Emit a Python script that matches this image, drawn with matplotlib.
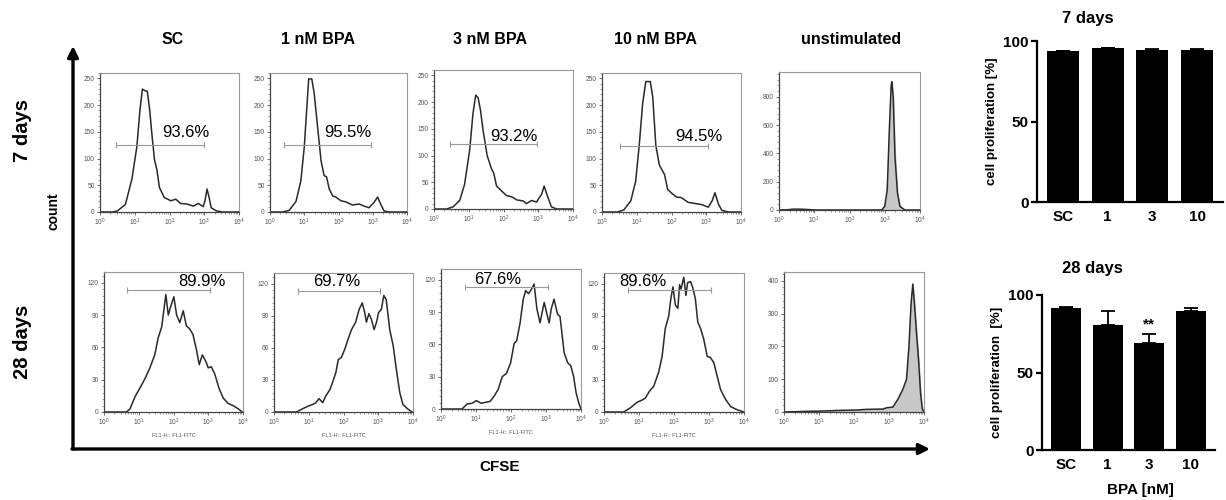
import numpy as np
import matplotlib
matplotlib.use('Agg')
import matplotlib.pyplot as plt
from matplotlib.ticker import AutoMinorLocator, MultipleLocator

plt.rcParams['font.family'] = ['Liberation Sans', 'DejaVu Sans']

W, H = 1226, 500

conditions = ['SC', '1 nM BPA', '3 nM BPA', '10 nM BPA', 'unstimulated']
bar_labels = ['SC', '1', '3', '10']

# CFSE histograms, x given as log10(fluorescence), y = count
# 7 days
sc7_x = [0, 0.36, 0.5, 0.73, 0.92, 1.06, 1.15, 1.22, 1.29, 1.36, 1.43, 1.5, 1.57, 1.64, 1.71, 1.85,
         2.04, 2.18, 2.32, 2.5, 2.69, 2.83, 2.97, 3.02, 3.08, 3.14, 3.2, 3.35, 3.53, 4.0]
sc7_y = [0, 0, 2, 14, 62, 122, 191, 230, 227, 226, 191, 141, 97, 78, 46, 27,
         21, 24, 16, 15, 11, 16, 10, 21, 43, 27, 8, 2, 0, 0]
bpa1_7_x = [0, 0.37, 0.56, 0.76, 0.9, 1.0, 1.07, 1.13, 1.22, 1.29, 1.39, 1.49, 1.58, 1.65, 1.73, 1.83,
            1.92, 2.07, 2.21, 2.41, 2.6, 2.75, 2.89, 3.04, 3.14, 3.23, 3.33, 3.48, 4.0]
bpa1_7_y = [0, 0, 3, 20, 58, 121, 190, 249, 249, 222, 159, 96, 68, 66, 43, 30,
            28, 21, 19, 13, 15, 11, 8, 18, 28, 15, 2, 0, 0]
bpa3_7_x = [0, 0.36, 0.55, 0.74, 0.88, 1.03, 1.12, 1.2, 1.27, 1.34, 1.41, 1.53, 1.65, 1.72, 1.8, 1.94,
            2.09, 2.23, 2.38, 2.57, 2.66, 2.81, 2.95, 3.1, 3.17, 3.26, 3.38, 3.53, 4.0]
bpa3_7_y = [0, 0, 4, 16, 46, 112, 178, 213, 208, 184, 148, 100, 76, 67, 43, 34,
            25, 23, 17, 15, 10, 16, 13, 28, 43, 25, 4, 0, 0]
bpa10_7_x = [0, 0.44, 0.63, 0.83, 0.97, 1.07, 1.17, 1.26, 1.39, 1.46, 1.55, 1.65, 1.8, 1.89, 1.99,
             2.14, 2.28, 2.48, 2.67, 2.86, 3.06, 3.17, 3.25, 3.35, 3.45, 3.64, 4.0]
bpa10_7_y = [0, 0, 4, 21, 58, 124, 203, 244, 244, 215, 124, 88, 70, 42, 36,
             28, 27, 18, 16, 14, 9, 21, 36, 15, 3, 0, 0]
unst7_x = [0, 0.25, 0.4, 0.6, 0.85, 1.0, 2.91, 3.0, 3.07, 3.13, 3.18, 3.2, 3.24, 3.29, 3.36, 3.43, 3.57, 4.0]
unst7_y = [0, 2, 6, 6, 3, 0, 0, 26, 143, 566, 871, 906, 800, 378, 120, 26, 0, 0]

# 28 days
sc28_x = [0, 0.65, 0.75, 0.89, 1.03, 1.18, 1.32, 1.46, 1.56, 1.66, 1.72, 1.78, 1.85, 1.91, 2.01, 2.09,
          2.18, 2.28, 2.37, 2.47, 2.56, 2.66, 2.74, 2.83, 2.93, 3.0, 3.09, 3.19, 3.31, 3.43, 3.57,
          3.71, 3.86, 3.98]
sc28_y = [0, 0, 3, 14, 22, 31, 41, 53, 69, 79, 94, 109, 90, 97, 107, 90,
          83, 94, 80, 77, 72, 58, 44, 53, 47, 41, 42, 35, 22, 13, 8,
          6, 3, 0]
bpa1_28_x = [0, 0.65, 0.79, 0.99, 1.18, 1.3, 1.4, 1.49, 1.61, 1.7, 1.78, 1.85, 1.94, 2.04, 2.13, 2.23,
             2.35, 2.45, 2.54, 2.61, 2.66, 2.73, 2.8, 2.88, 2.95, 3.01, 3.09, 3.16, 3.23, 3.33, 3.43,
             3.52, 3.62, 3.71, 3.86, 3.98]
bpa1_28_y = [0, 0, 2.5, 5.6, 8, 12.5, 8.7, 15, 21, 29, 37, 49, 51, 59, 68, 77,
             84, 96, 102, 93, 84, 92, 87, 77, 84, 93, 96, 109, 105, 77, 62,
             40, 18, 7, 2.5, 0]
bpa3_28_x = [0, 0.6, 0.75, 0.89, 1.01, 1.15, 1.27, 1.4, 1.51, 1.63, 1.75, 1.87, 1.99, 2.09, 2.16, 2.26,
             2.35, 2.42, 2.5, 2.58, 2.66, 2.74, 2.83, 2.95, 3.02, 3.09, 3.15, 3.23, 3.33, 3.4, 3.52,
             3.62, 3.71, 3.79, 3.86, 3.94, 4.0]
bpa3_28_y = [0, 0, 4.7, 5.3, 7.8, 5.3, 6.2, 7, 11.5, 18, 30, 33, 43, 61, 63, 80,
             102, 110, 107, 111, 116, 93, 80, 99, 89, 80, 93, 102, 88, 86, 52,
             43, 40, 30, 15, 5.3, 0]
bpa10_28_x = [0, 0.56, 0.75, 0.94, 1.08, 1.18, 1.3, 1.42, 1.56, 1.66, 1.75, 1.85, 1.91, 1.97, 2.04,
              2.11, 2.16, 2.2, 2.28, 2.34, 2.39, 2.47, 2.53, 2.61, 2.68, 2.76, 2.85, 2.95, 3.04,
              3.14, 3.23, 3.33, 3.47, 3.62, 3.81, 4.0]
bpa10_28_y = [0, 0, 3.8, 9, 11, 13, 19.5, 24, 37, 52, 78, 90, 106, 117, 100,
              97, 119, 115, 126, 109, 121, 122, 117, 106, 84, 78, 68, 52, 51,
              46, 34, 21, 12, 5, 2, 0]
unst28_x = [0, 0.64, 1.11, 1.59, 2.07, 2.35, 2.83, 2.93, 3.11, 3.26, 3.4, 3.5, 3.57, 3.63, 3.68,
            3.72, 3.78, 3.85, 3.9, 3.95, 4.0]
unst28_y = [0, 2, 3, 5, 6, 8, 9, 13, 15, 40, 70, 100, 200, 330, 390,
            340, 250, 150, 60, 10, 0]

# gated percentages
pct7 = ['93.6%', '95.5%', '93.2%', '94.5%']
pct28 = ['89.9%', '69.7%', '67.6%', '89.6%']

# bar charts: cell proliferation [%]
prolif7 = [93.6, 95.5, 94.2, 94.5]
prolif7_err = [0.4, 0.3, 0.6, 0.3]
prolif28 = [91.4, 80.6, 68.8, 89.9]
prolif28_err = [1.1, 9.1, 6.0, 1.9]


def px_axes(fig, box):
    l, t, r, b = box
    return fig.add_axes([l / W, 1 - b / H, (r - l) / W, (b - t) / H])


def style_hist(ax, ymax, ystep, xlabel=False):
    ax.set_xscale('log')
    ax.set_xlim(1, 1e4)
    ax.set_ylim(0, ymax)
    ax.yaxis.set_major_locator(MultipleLocator(ystep))
    ax.yaxis.set_minor_locator(AutoMinorLocator(5))
    for s in ['left', 'bottom']:
        ax.spines[s].set_color('#444444')
        ax.spines[s].set_linewidth(0.9)
    for s in ['top', 'right']:
        ax.spines[s].set_color('#999999')
        ax.spines[s].set_linewidth(0.8)
    ax.tick_params(which='major', length=2.2, width=0.6, labelsize=4.8, pad=1.5,
                   colors='#555555', direction='out')
    ax.tick_params(which='minor', length=1.2, width=0.4, colors='#555555', direction='out')
    if xlabel:
        ax.set_xlabel('FL1-H:: FL1-FITC', fontsize=4, color='#555555', labelpad=3)


fig = plt.figure(figsize=(W / 100, H / 100), dpi=100)

# background layer for the big arrows and labels
bg = fig.add_axes([0, 0, 1, 1])
bg.set_xlim(0, W)
bg.set_ylim(H, 0)
bg.axis('off')
arrow = dict(arrowstyle='-|>', lw=2.4, color='black', mutation_scale=16, shrinkA=0, shrinkB=0)
bg.annotate('', xy=(73, 46), xytext=(73, 449), arrowprops=arrow)
bg.annotate('', xy=(930, 449), xytext=(72, 449), arrowprops=arrow)

for cx, name in zip([173, 318, 490, 655, 851], conditions):
    bg.text(cx, 40, name, ha='center', va='center', fontsize=11.5, fontweight='bold')
bg.text(22, 130, '7 days', rotation=90, ha='center', va='center', fontsize=14.5, fontweight='bold')
bg.text(22, 342, '28 days', rotation=90, ha='center', va='center', fontsize=14.5, fontweight='bold')
bg.text(53, 211, 'count', rotation=90, ha='center', va='center', fontsize=10, fontweight='bold')
bg.text(500, 467, 'CFSE', ha='center', va='center', fontsize=11, fontweight='bold')

boxes7 = [(100, 73, 239, 212), (270, 73, 407, 212), (434, 70, 573, 209),
          (602, 73, 741, 212), (779, 72, 920, 210)]
boxes28 = [(104, 272, 243, 412), (274, 273, 413, 412), (441, 269, 581, 409),
           (604, 273, 744, 412), (784, 272, 924, 412)]

hist7 = [(sc7_x, sc7_y), (bpa1_7_x, bpa1_7_y), (bpa3_7_x, bpa3_7_y), (bpa10_7_x, bpa10_7_y)]
hist28 = [(sc28_x, sc28_y), (bpa1_28_x, bpa1_28_y), (bpa3_28_x, bpa3_28_y), (bpa10_28_x, bpa10_28_y)]

# gate bar (log start, log end, height) and label position (log x, y)
gates7 = [(0.45, 2.99, 125, 2.46, 149), (0.42, 2.94, 126, 2.26, 148),
          (0.45, 2.97, 122, 2.30, 136), (0.51, 3.04, 123, 2.80, 141)]
gates28 = [(0.65, 3.06, 113, 2.83, 121), (0.70, 3.06, 113, 1.80, 122),
           (0.68, 3.07, 113, 1.61, 120), (0.68, 3.07, 114, 1.11, 122)]

line_col = '#2a2a2a'
for i in range(4):
    ax = px_axes(fig, boxes7[i])
    x, y = hist7[i]
    ax.plot(10 ** np.array(x), y, color=line_col, lw=1.1)
    g = gates7[i]
    ax.plot([10 ** g[0], 10 ** g[1]], [g[2], g[2]], color='#9a9a9a', lw=0.8,
            marker='|', markersize=4, markeredgewidth=0.8)
    ax.text(10 ** g[3], g[4], pct7[i], ha='center', va='center', fontsize=12)
    style_hist(ax, 260, 50)

    ax = px_axes(fig, boxes28[i])
    x, y = hist28[i]
    ax.plot(10 ** np.array(x), y, color=line_col, lw=1.1)
    g = gates28[i]
    ax.plot([10 ** g[0], 10 ** g[1]], [g[2], g[2]], color='#9a9a9a', lw=0.8,
            marker='|', markersize=4, markeredgewidth=0.8)
    ax.text(10 ** g[3], g[4], pct28[i], ha='center', va='center', fontsize=12)
    style_hist(ax, 130, 30, xlabel=True)

# unstimulated controls, filled
ax = px_axes(fig, boxes7[4])
ux = 10 ** np.array(unst7_x)
ax.fill_between(ux, unst7_y, color='#c8c8c8')
ax.plot(ux, unst7_y, color=line_col, lw=1.1)
style_hist(ax, 975, 200)

ax = px_axes(fig, boxes28[4])
ux = 10 ** np.array(unst28_x)
ax.fill_between(ux, unst28_y, color='#c8c8c8')
ax.plot(ux, unst28_y, color=line_col, lw=1.1)
style_hist(ax, 427, 100)


def bar_panel(box, vals, errs, ylabel):
    ax = px_axes(fig, box)
    pos = np.arange(len(vals))
    ax.bar(pos, vals, width=0.72, color='black')
    ax.errorbar(pos, vals, yerr=[np.zeros(len(errs)), errs], fmt='none',
                ecolor='black', elinewidth=1.3, capsize=5, capthick=1.3)
    ax.set_xlim(-0.58, 3.58)
    ax.set_ylim(0, 100)
    ax.set_yticks([0, 50, 100])
    ax.set_xticks(pos)
    ax.set_xticklabels(bar_labels)
    for s in ['top', 'right']:
        ax.spines[s].set_visible(False)
    for s in ['left', 'bottom']:
        ax.spines[s].set_linewidth(1.6)
    ax.tick_params(axis='y', length=4, width=1.6, labelsize=11, pad=2)
    ax.tick_params(axis='x', length=0, labelsize=11, pad=6)
    for lab in ax.get_xticklabels() + ax.get_yticklabels():
        lab.set_fontweight('bold')
    ax.set_ylabel(ylabel, fontsize=9.5, fontweight='bold', labelpad=4)
    return ax


bar_panel((1037, 41, 1223, 202), prolif7, prolif7_err, 'cell proliferation [%]')
ax28 = bar_panel((1042, 295, 1215, 450), prolif28, prolif28_err, 'cell proliferation  [%]')
ax28.text(2, prolif28[2] + prolif28_err[2] + 1.5, '**', ha='center', va='bottom',
          fontsize=11, fontweight='bold')

bg.text(1088, 19, '7 days', ha='center', va='center', fontsize=12, fontweight='bold')
bg.text(1092, 268, '28 days', ha='center', va='center', fontsize=12, fontweight='bold')
bg.text(1140, 490, 'BPA [nM]', ha='center', va='center', fontsize=11, fontweight='bold')

fig.savefig('out.png', dpi=100)
